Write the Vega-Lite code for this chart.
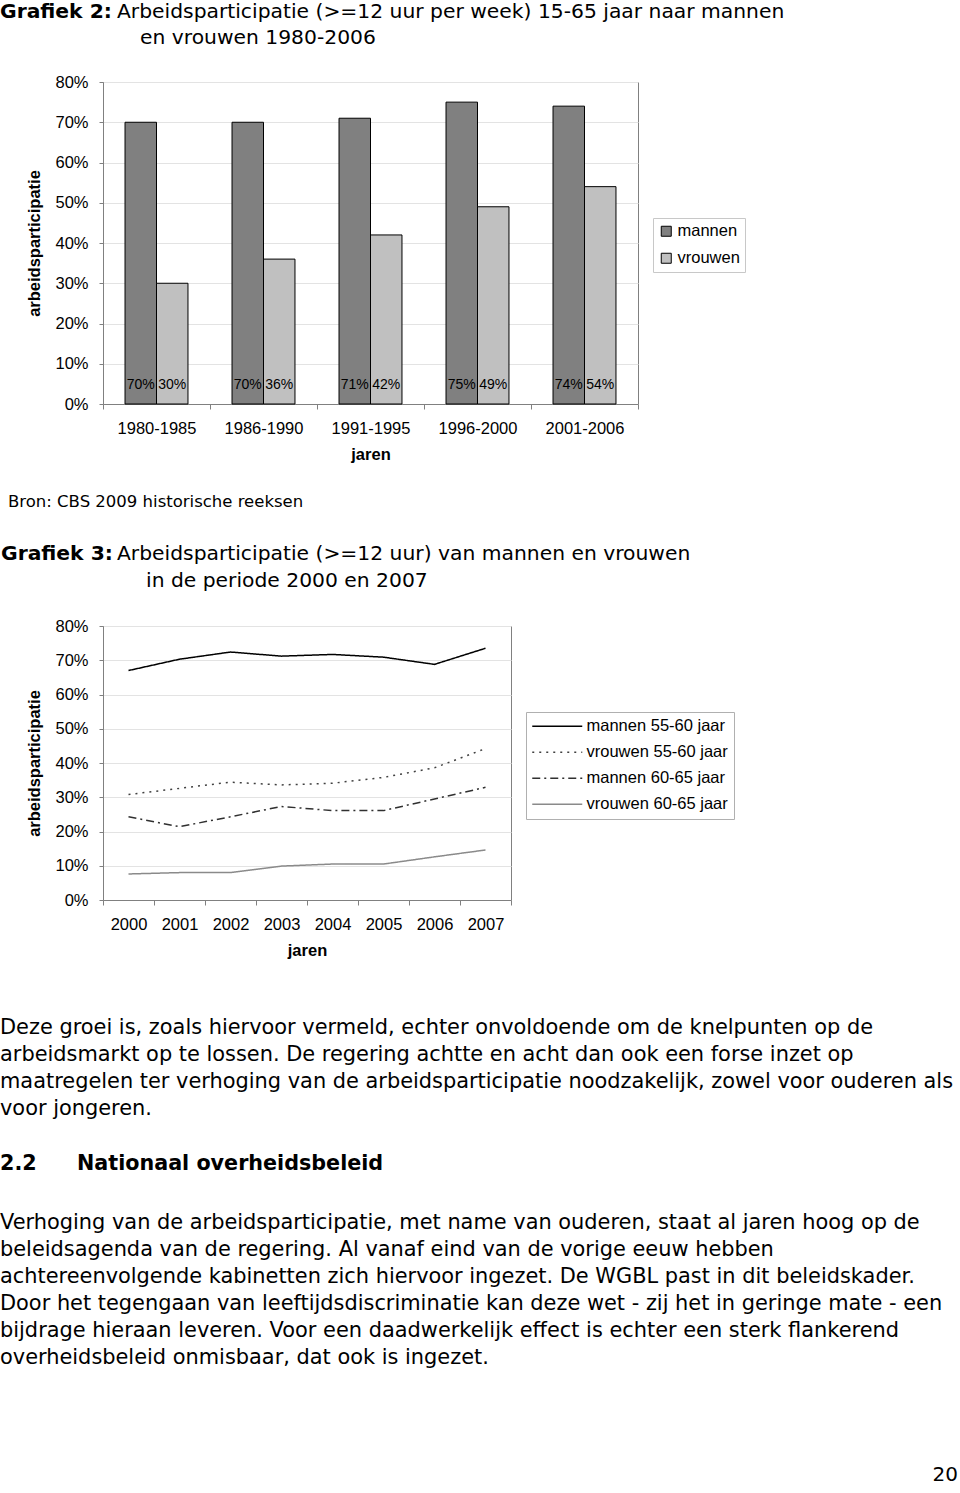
{
  "$schema": "https://vega.github.io/schema/vega-lite/v6.json",
  "background": "white",
  "padding": {"left": 0, "top": 2, "right": 0, "bottom": 0},
  "bounds": "flush",
  "spacing": 0,
  "config": {
    "view": {"stroke": null},
    "font": "Liberation Sans"
  },
  "vconcat": [
    {
      "width": 535,
      "height": 80,
      "data": {"values": [
        {"kind": "label", "text": "Grafiek 2:"},
        {"kind": "line1", "text": "Arbeidsparticipatie (>=12 uur per week) 15-65 jaar naar mannen"},
        {"kind": "line2", "text": "en vrouwen 1980-2006"}
      ]},
      "encoding": {
        "x": {"datum": 0, "type": "quantitative", "scale": {"domain": [0, 1]}, "axis": null},
        "y": {"datum": 0, "type": "quantitative", "scale": {"domain": [0, 1], "reverse": true}, "axis": null},
        "text": {"field": "text", "type": "nominal"}
      },
      "layer": [
        {"transform": [{"filter": "datum.kind == 'label'"}],
         "mark": {"type": "text", "align": "left", "baseline": "top", "font": "DejaVu Sans", "fontWeight": "bold", "fontSize": 20.3, "color": "black", "dx": -103, "dy": 0}},
        {"transform": [{"filter": "datum.kind == 'line1'"}],
         "mark": {"type": "text", "align": "left", "baseline": "top", "font": "DejaVu Sans", "fontSize": 20.3, "color": "black", "dx": 14, "dy": 0}},
        {"transform": [{"filter": "datum.kind == 'line2'"}],
         "mark": {"type": "text", "align": "left", "baseline": "top", "font": "DejaVu Sans", "fontSize": 20.3, "color": "black", "dx": 37, "dy": 26}}
      ]
    },
    {
      "width": 535,
      "height": 322,
      "view": {"stroke": "#808080", "strokeWidth": 1},
      "data": {"values": [
        {"periode": "1980-1985", "geslacht": "mannen", "waarde": 0.70},
        {"periode": "1980-1985", "geslacht": "vrouwen", "waarde": 0.30},
        {"periode": "1986-1990", "geslacht": "mannen", "waarde": 0.70},
        {"periode": "1986-1990", "geslacht": "vrouwen", "waarde": 0.36},
        {"periode": "1991-1995", "geslacht": "mannen", "waarde": 0.71},
        {"periode": "1991-1995", "geslacht": "vrouwen", "waarde": 0.42},
        {"periode": "1996-2000", "geslacht": "mannen", "waarde": 0.75},
        {"periode": "1996-2000", "geslacht": "vrouwen", "waarde": 0.49},
        {"periode": "2001-2006", "geslacht": "mannen", "waarde": 0.74},
        {"periode": "2001-2006", "geslacht": "vrouwen", "waarde": 0.54}
      ]},
      "encoding": {
        "x": {"field": "periode", "type": "nominal", "sort": null,
          "scale": {"paddingInner": 0, "paddingOuter": 0},
          "axis": {"title": "jaren", "labelAngle": 0, "tickBand": "extent", "tickSize": 5, "tickColor": "#808080", "domainColor": "#808080", "labelPadding": 11, "labelFontSize": 16.5, "labelColor": "black", "labelFont": "Liberation Sans", "titleFont": "Liberation Sans", "titleFontSize": 16.5, "titleFontWeight": "bold", "titleColor": "black", "titlePadding": 10, "grid": false}},
        "xOffset": {"field": "geslacht", "type": "nominal", "sort": ["mannen", "vrouwen"], "scale": {"paddingInner": 0, "paddingOuter": 0.7}},
        "y": {"field": "waarde", "type": "quantitative", "scale": {"domain": [0, 0.8]},
          "axis": {"title": "arbeidsparticipatie", "values": [0, 0.1, 0.2, 0.3, 0.4, 0.5, 0.6, 0.7, 0.8], "format": ".0%", "grid": true, "gridColor": "#e3e3e3", "domainColor": "#808080", "tickColor": "#808080", "tickSize": 4, "labelPadding": 11, "labelFontSize": 16.5, "labelColor": "black", "labelFont": "Liberation Sans", "titleFont": "Liberation Sans", "titleFontSize": 16.5, "titleFontWeight": "bold", "titleColor": "black", "titlePadding": 12}}
      },
      "layer": [
        {"mark": {"type": "bar", "stroke": "black", "strokeWidth": 1},
         "encoding": {
           "fill": {"field": "geslacht", "type": "nominal", "sort": ["mannen", "vrouwen"],
             "scale": {"domain": ["mannen", "vrouwen"], "range": ["#808080", "#c0c0c0"]},
             "legend": {"title": null, "orient": "none", "legendX": 550, "legendY": 216, "strokeColor": "#c8c8c8", "fillColor": "white", "padding": 5, "symbolType": "square", "symbolSize": 100, "symbolStrokeColor": "black", "symbolStrokeWidth": 1, "labelFontSize": 16.5, "labelFont": "Liberation Sans", "labelColor": "black", "rowPadding": 10, "labelOffset": 3}}
         }},
        {"mark": {"type": "text", "baseline": "alphabetic", "dy": -15, "fontSize": 14, "font": "Liberation Sans", "color": "black"},
         "encoding": {
           "y": {"datum": 0, "type": "quantitative"},
           "text": {"field": "waarde", "type": "quantitative", "format": ".0%"}
         }}
      ]
    },
    {
      "width": 535,
      "height": 222,
      "data": {"values": [
        {"kind": "bron", "text": "Bron: CBS 2009 historische reeksen"},
        {"kind": "label", "text": "Grafiek 3:"},
        {"kind": "line1", "text": "Arbeidsparticipatie (>=12 uur) van mannen en vrouwen"},
        {"kind": "line2", "text": "in de periode 2000 en 2007"}
      ]},
      "encoding": {
        "x": {"datum": 0, "type": "quantitative", "scale": {"domain": [0, 1]}, "axis": null},
        "y": {"datum": 0, "type": "quantitative", "scale": {"domain": [0, 1], "reverse": true}, "axis": null},
        "text": {"field": "text", "type": "nominal"}
      },
      "layer": [
        {"transform": [{"filter": "datum.kind == 'bron'"}],
         "mark": {"type": "text", "align": "left", "baseline": "top", "font": "DejaVu Sans", "fontSize": 16.5, "color": "black", "dx": -95, "dy": 90}},
        {"transform": [{"filter": "datum.kind == 'label'"}],
         "mark": {"type": "text", "align": "left", "baseline": "top", "font": "DejaVu Sans", "fontWeight": "bold", "fontSize": 20.3, "color": "black", "dx": -102, "dy": 140}},
        {"transform": [{"filter": "datum.kind == 'line1'"}],
         "mark": {"type": "text", "align": "left", "baseline": "top", "font": "DejaVu Sans", "fontSize": 20.3, "color": "black", "dx": 14, "dy": 140}},
        {"transform": [{"filter": "datum.kind == 'line2'"}],
         "mark": {"type": "text", "align": "left", "baseline": "top", "font": "DejaVu Sans", "fontSize": 20.3, "color": "black", "dx": 43, "dy": 167}}
      ]
    },
    {
      "width": 408,
      "height": 274,
      "view": {"stroke": "#808080", "strokeWidth": 1},
      "data": {"values": [
        {"jaar": "2000", "reeks": "mannen 55-60 jaar", "waarde": 0.670},
        {"jaar": "2001", "reeks": "mannen 55-60 jaar", "waarde": 0.703},
        {"jaar": "2002", "reeks": "mannen 55-60 jaar", "waarde": 0.724},
        {"jaar": "2003", "reeks": "mannen 55-60 jaar", "waarde": 0.712},
        {"jaar": "2004", "reeks": "mannen 55-60 jaar", "waarde": 0.717},
        {"jaar": "2005", "reeks": "mannen 55-60 jaar", "waarde": 0.709},
        {"jaar": "2006", "reeks": "mannen 55-60 jaar", "waarde": 0.688},
        {"jaar": "2007", "reeks": "mannen 55-60 jaar", "waarde": 0.735},
        {"jaar": "2000", "reeks": "vrouwen 55-60 jaar", "waarde": 0.308},
        {"jaar": "2001", "reeks": "vrouwen 55-60 jaar", "waarde": 0.326},
        {"jaar": "2002", "reeks": "vrouwen 55-60 jaar", "waarde": 0.344},
        {"jaar": "2003", "reeks": "vrouwen 55-60 jaar", "waarde": 0.336},
        {"jaar": "2004", "reeks": "vrouwen 55-60 jaar", "waarde": 0.341},
        {"jaar": "2005", "reeks": "vrouwen 55-60 jaar", "waarde": 0.358},
        {"jaar": "2006", "reeks": "vrouwen 55-60 jaar", "waarde": 0.386},
        {"jaar": "2007", "reeks": "vrouwen 55-60 jaar", "waarde": 0.442},
        {"jaar": "2000", "reeks": "mannen 60-65 jaar", "waarde": 0.243},
        {"jaar": "2001", "reeks": "mannen 60-65 jaar", "waarde": 0.214},
        {"jaar": "2002", "reeks": "mannen 60-65 jaar", "waarde": 0.243},
        {"jaar": "2003", "reeks": "mannen 60-65 jaar", "waarde": 0.273},
        {"jaar": "2004", "reeks": "mannen 60-65 jaar", "waarde": 0.261},
        {"jaar": "2005", "reeks": "mannen 60-65 jaar", "waarde": 0.261},
        {"jaar": "2006", "reeks": "mannen 60-65 jaar", "waarde": 0.295},
        {"jaar": "2007", "reeks": "mannen 60-65 jaar", "waarde": 0.329},
        {"jaar": "2000", "reeks": "vrouwen 60-65 jaar", "waarde": 0.076},
        {"jaar": "2001", "reeks": "vrouwen 60-65 jaar", "waarde": 0.080},
        {"jaar": "2002", "reeks": "vrouwen 60-65 jaar", "waarde": 0.080},
        {"jaar": "2003", "reeks": "vrouwen 60-65 jaar", "waarde": 0.099},
        {"jaar": "2004", "reeks": "vrouwen 60-65 jaar", "waarde": 0.105},
        {"jaar": "2005", "reeks": "vrouwen 60-65 jaar", "waarde": 0.105},
        {"jaar": "2006", "reeks": "vrouwen 60-65 jaar", "waarde": 0.126},
        {"jaar": "2007", "reeks": "vrouwen 60-65 jaar", "waarde": 0.146}
      ]},
      "mark": {"type": "line", "strokeWidth": 1.5},
      "encoding": {
        "x": {"field": "jaar", "type": "ordinal", "bandPosition": 0.5,
          "scale": {"type": "band", "paddingInner": 0, "paddingOuter": 0},
          "axis": {"title": "jaren", "labelAngle": 0, "tickBand": "extent", "tickSize": 5, "tickColor": "#808080", "domainColor": "#808080", "labelPadding": 11, "labelFontSize": 16.5, "labelColor": "black", "labelFont": "Liberation Sans", "titleFont": "Liberation Sans", "titleFontSize": 16.5, "titleFontWeight": "bold", "titleColor": "black", "titlePadding": 10, "grid": false}},
        "y": {"field": "waarde", "type": "quantitative", "scale": {"domain": [0, 0.8]},
          "axis": {"title": "arbeidsparticipatie", "values": [0, 0.1, 0.2, 0.3, 0.4, 0.5, 0.6, 0.7, 0.8], "format": ".0%", "grid": true, "gridColor": "#e3e3e3", "domainColor": "#808080", "tickColor": "#808080", "tickSize": 4, "labelPadding": 11, "labelFontSize": 16.5, "labelColor": "black", "labelFont": "Liberation Sans", "titleFont": "Liberation Sans", "titleFontSize": 16.5, "titleFontWeight": "bold", "titleColor": "black", "titlePadding": 12}},
        "color": {"field": "reeks", "type": "nominal",
          "scale": {"domain": ["mannen 55-60 jaar", "vrouwen 55-60 jaar", "mannen 60-65 jaar", "vrouwen 60-65 jaar"], "range": ["#000000", "#404040", "#303030", "#8a8a8a"]},
          "legend": {"title": null, "orient": "none", "legendX": 423, "legendY": 710, "strokeColor": "#b0b0b0", "fillColor": "white", "padding": 6, "symbolType": "M-1.6,0H8.4", "symbolSize": 100, "symbolStrokeWidth": 1.5, "labelFontSize": 16.5, "labelFont": "Liberation Sans", "labelColor": "black", "rowPadding": 9, "labelOffset": 38}},
        "strokeDash": {"field": "reeks", "type": "nominal",
          "scale": {"domain": ["mannen 55-60 jaar", "vrouwen 55-60 jaar", "mannen 60-65 jaar", "vrouwen 60-65 jaar"], "range": [[1, 0], [2, 5], [8, 4, 2, 4], [1, 0]]},
          "legend": {"title": null, "orient": "none", "legendX": 423, "legendY": 710, "strokeColor": "#b0b0b0", "fillColor": "white", "padding": 6, "symbolType": "M-1.6,0H8.4", "symbolSize": 100, "symbolStrokeWidth": 1.5, "labelFontSize": 16.5, "labelFont": "Liberation Sans", "labelColor": "black", "rowPadding": 9, "labelOffset": 38}}
      }
    },
    {
      "width": 535,
      "height": 593,
      "data": {"values": [
        {"kind": "para1", "text": "Deze groei is, zoals hiervoor vermeld, echter onvoldoende om de knelpunten op de\narbeidsmarkt op te lossen. De regering achtte en acht dan ook een forse inzet op\nmaatregelen ter verhoging van de arbeidsparticipatie noodzakelijk, zowel voor ouderen als\nvoor jongeren."},
        {"kind": "headnum", "text": "2.2"},
        {"kind": "head", "text": "Nationaal overheidsbeleid"},
        {"kind": "para2", "text": "Verhoging van de arbeidsparticipatie, met name van ouderen, staat al jaren hoog op de\nbeleidsagenda van de regering. Al vanaf eind van de vorige eeuw hebben\nachtereenvolgende kabinetten zich hiervoor ingezet. De WGBL past in dit beleidskader.\nDoor het tegengaan van leeftijdsdiscriminatie kan deze wet - zij het in geringe mate - een\nbijdrage hieraan leveren. Voor een daadwerkelijk effect is echter een sterk flankerend\noverheidsbeleid onmisbaar, dat ook is ingezet."},
        {"kind": "page", "text": "20"}
      ]},
      "encoding": {
        "x": {"datum": 0, "type": "quantitative", "scale": {"domain": [0, 1]}, "axis": null},
        "y": {"datum": 0, "type": "quantitative", "scale": {"domain": [0, 1], "reverse": true}, "axis": null},
        "text": {"field": "text", "type": "nominal"}
      },
      "layer": [
        {"transform": [{"filter": "datum.kind == 'para1'"}],
         "mark": {"type": "text", "align": "left", "baseline": "top", "font": "DejaVu Sans", "fontSize": 20.9, "lineHeight": 27, "lineBreak": "\n", "color": "black", "dx": -103, "dy": 117}},
        {"transform": [{"filter": "datum.kind == 'headnum'"}],
         "mark": {"type": "text", "align": "left", "baseline": "top", "font": "DejaVu Sans", "fontWeight": "bold", "fontSize": 20.7, "color": "black", "dx": -103, "dy": 254}},
        {"transform": [{"filter": "datum.kind == 'head'"}],
         "mark": {"type": "text", "align": "left", "baseline": "top", "font": "DejaVu Sans", "fontWeight": "bold", "fontSize": 20.7, "color": "black", "dx": -26, "dy": 254}},
        {"transform": [{"filter": "datum.kind == 'para2'"}],
         "mark": {"type": "text", "align": "left", "baseline": "top", "font": "DejaVu Sans", "fontSize": 20.9, "lineHeight": 27, "lineBreak": "\n", "color": "black", "dx": -103, "dy": 312}},
        {"transform": [{"filter": "datum.kind == 'page'"}],
         "mark": {"type": "text", "align": "right", "baseline": "top", "font": "DejaVu Sans", "fontSize": 20, "color": "black", "dx": 855, "dy": 565}}
      ]
    }
  ]
}
